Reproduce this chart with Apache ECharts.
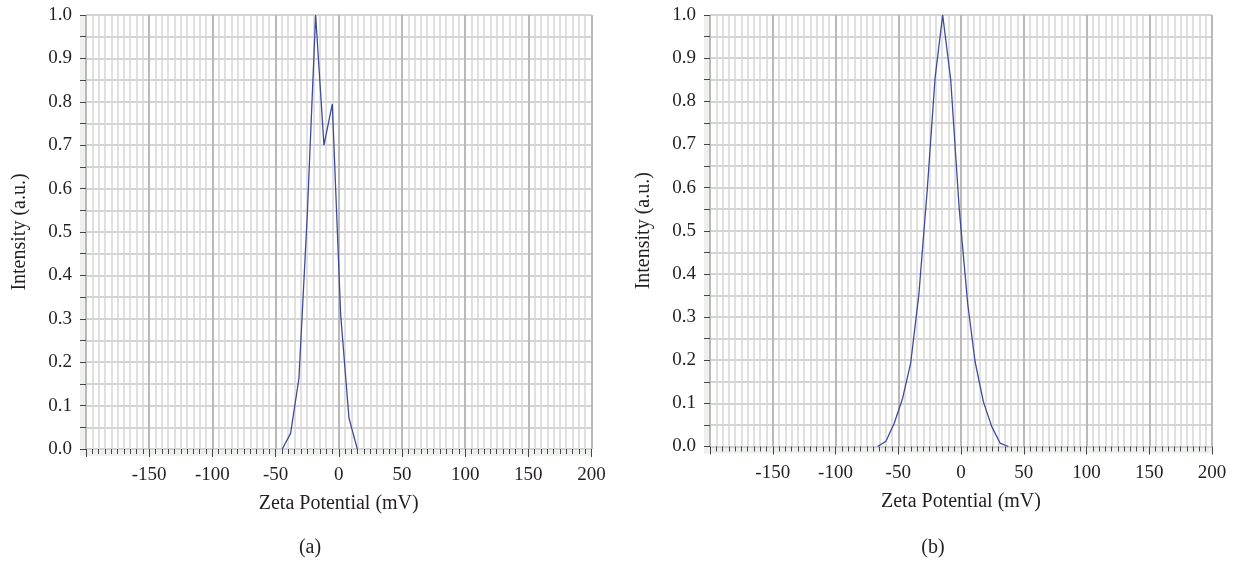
<!DOCTYPE html>
<html>
<head>
<meta charset="utf-8">
<script src="https://cdn.jsdelivr.net/npm/echarts@6/dist/echarts.min.js"></script>
<style>
  html, body { margin: 0; padding: 0; background: #fff; }
  #chart { width: 1237px; height: 561px; }
</style>
</head>
<body>
<div id="chart"></div>
<script>
// (a) zeta potential distribution
const zetaA = [-44.7, -38.1, -31.5, -24.9, -18.3, -11.7, -5.1, 1.5, 8.1, 14.7]
const intensityA = [0, 0.036, 0.163, 0.54, 1.0, 0.70, 0.795, 0.31, 0.071, 0]

// (b) zeta potential distribution
const zetaB = [-66.4, -59.8, -53.2, -46.5, -40.1, -33.5, -26.9, -20.7, -14.6, -8.2,
  -1.4, 5.3, 11.2, 17.8, 24.5, 31.1, 37.7]
const intensityB = [0, 0.012, 0.054, 0.112, 0.193, 0.355, 0.595, 0.853, 1.0, 0.85,
  0.55, 0.332, 0.197, 0.104, 0.046, 0.008, 0]

const panelLabels = ['(a)', '(b)']
const xName = 'Zeta Potential (mV)'
const yName = 'Intensity (a.u.)'

const font = 'Liberation Serif'
const textColor = '#231f20'
const stripColor = '#eef0ee'

// grid boxes in px
const W = 1237, H = 561
const grids = [
  { left: 86, right: W - 591.5, top: 15, bottom: H - 449 },
  { left: 710, right: W - 1212, top: 15, bottom: H - 446.5 },
]

var chart = echarts.init(document.getElementById('chart'))

const xAxisFor = (i) => ({
  type: 'value',
  gridIndex: i,
  min: -200,
  max: 200,
  interval: 50,
  name: xName,
  nameLocation: 'middle',
  nameGap: 45,
  nameTextStyle: { fontFamily: font, fontSize: 20, color: textColor },
  axisLine: { show: false, onZero: false },
  axisTick: { show: true, length: 8, lineStyle: { color: '#444', width: 1 } },
  minorTick: { show: true, splitNumber: 10, length: 5, lineStyle: { color: '#444', width: 1 } },
  axisLabel: {
    showMinLabel: false,
    margin: 17,
    fontFamily: font,
    fontSize: 19,
    color: textColor,
  },
  splitLine: { show: true, lineStyle: { color: '#b9b9b9', width: 2 } },
  minorSplitLine: { show: true, lineStyle: { color: '#d6d6d6', width: 1.5 } },
})

const yAxisFor = (i) => ({
  type: 'value',
  gridIndex: i,
  min: 0,
  max: 1,
  interval: 0.1,
  name: yName,
  nameLocation: 'middle',
  nameGap: 56,
  nameTextStyle: { fontFamily: font, fontSize: 20, color: textColor },
  axisLine: { show: false, onZero: false },
  axisTick: { show: true, length: 6, lineStyle: { color: '#444', width: 1 } },
  minorTick: { show: true, splitNumber: 2, length: 6, lineStyle: { color: '#444', width: 1 } },
  axisLabel: {
    margin: 14,
    fontFamily: font,
    fontSize: 19,
    color: textColor,
    formatter: (v) => v.toFixed(1),
  },
  splitLine: { show: true, lineStyle: { color: '#c6c6c6', width: 1.5 } },
  minorSplitLine: { show: true, lineStyle: { color: '#c6c6c6', width: 1.5 } },
})

// light grey strips behind the axis ticks
const strips = []
grids.forEach((g) => {
  const x0 = g.left, x1 = W - g.right, yb = H - g.bottom
  strips.push({
    type: 'rect', z: -10,
    shape: { x: x0 - 6, y: g.top, width: 6, height: yb - g.top + 7 },
    style: { fill: stripColor },
  })
  strips.push({
    type: 'rect', z: -10,
    shape: { x: x0 - 6, y: yb, width: x1 - x0 + 6, height: 7 },
    style: { fill: stripColor },
  })
})

var option = {
  animation: false,
  backgroundColor: '#fff',
  title: panelLabels.map((t, i) => ({
    text: t,
    left: i === 0 ? 305 : 928,
    top: 533,
    textAlign: 'center',
    textStyle: { fontFamily: font, fontSize: 20, fontWeight: 'normal', color: textColor },
  })),
  graphic: strips,
  grid: grids.map((g) => ({ ...g, containLabel: false, outerBoundsMode: 'none' })),
  xAxis: [xAxisFor(0), xAxisFor(1)],
  yAxis: [yAxisFor(0), yAxisFor(1)],
  series: [
    {
      type: 'line',
      xAxisIndex: 0,
      yAxisIndex: 0,
      data: zetaA.map((x, k) => [x, intensityA[k]]),
      showSymbol: false,
      lineStyle: { color: '#3c4b9b', width: 1.3 },
    },
    {
      type: 'line',
      xAxisIndex: 1,
      yAxisIndex: 1,
      data: zetaB.map((x, k) => [x, intensityB[k]]),
      showSymbol: false,
      lineStyle: { color: '#3c4b9b', width: 1.3 },
    },
  ],
}

chart.setOption(option)
</script>
</body>
</html>
